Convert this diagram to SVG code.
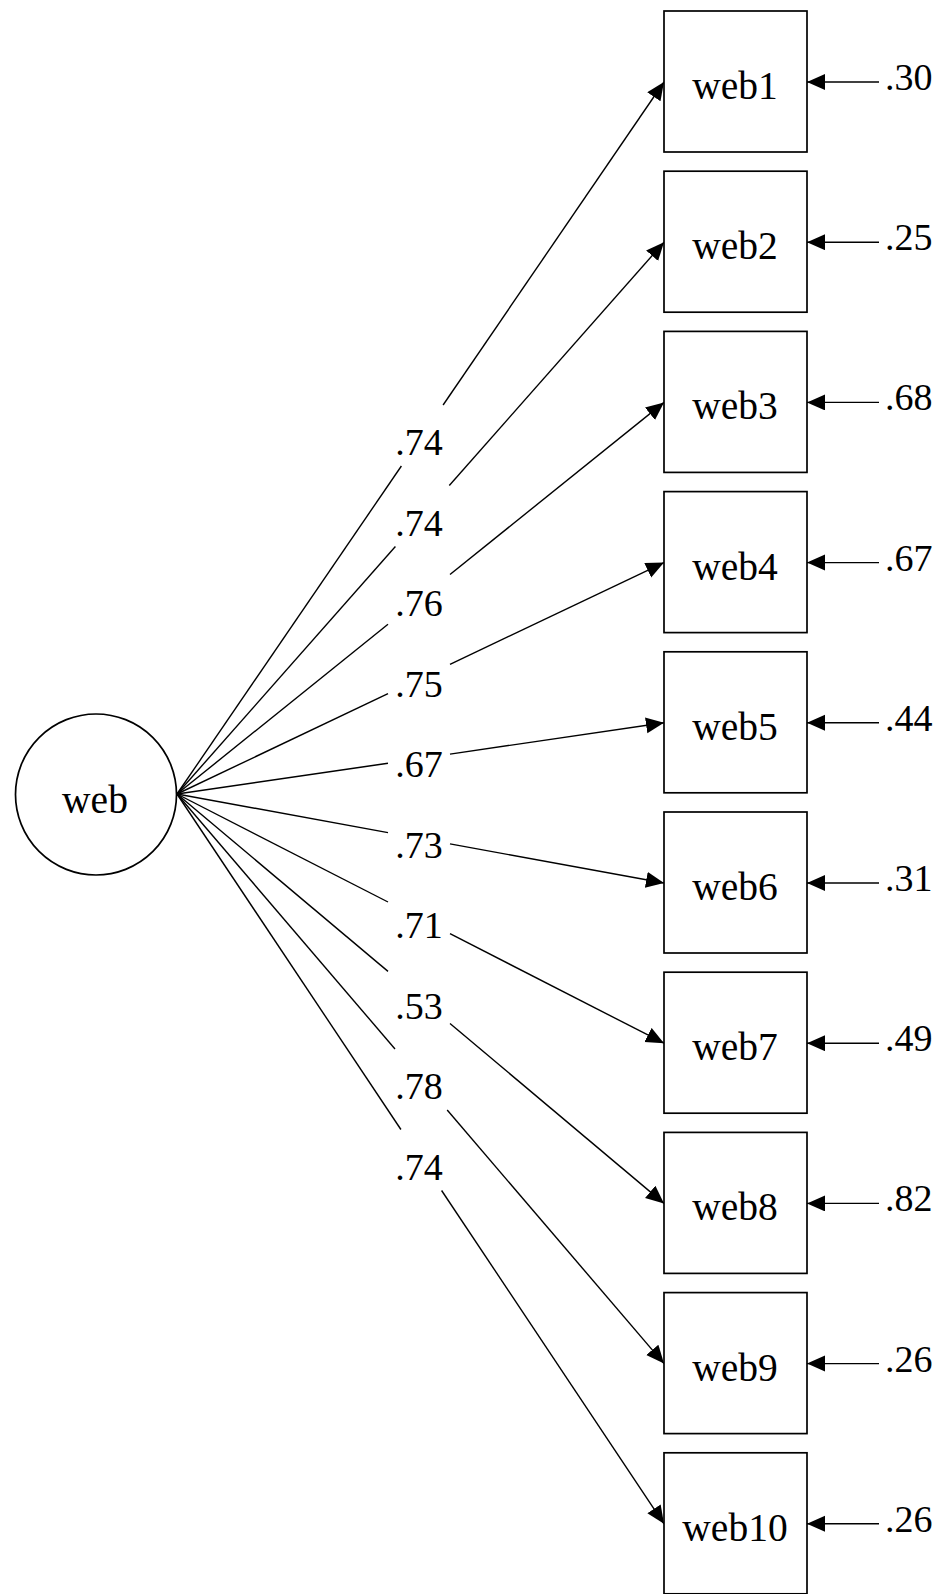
<svg xmlns="http://www.w3.org/2000/svg" width="950" height="1594" viewBox="0 0 950 1594">
<style>
.node{fill:#fff;stroke:#000;stroke-width:1.7}
.ln{fill:none;stroke:#000;stroke-width:1.4}
.nm{font-family:"Liberation Serif","Times New Roman",serif;font-size:39.5px;fill:#000;text-anchor:middle}
.num{font-family:"Liberation Serif","Times New Roman",serif;font-size:38px;fill:#000}
.mid{text-anchor:middle}
</style>
<defs>
<marker id="ah" markerUnits="userSpaceOnUse" markerWidth="20" markerHeight="18" refX="18" refY="8" orient="auto">
<path d="M0,0 L18,8 L0,16 Z" fill="#000"/>
</marker>
</defs>
<rect width="950" height="1594" fill="#fff"/>
<g id="connectors">
<path class="ln" d="M177,794 L401.4,466"/><path class="ln" d="M443.1,405 L664,82" marker-end="url(#ah)"/>
<path class="ln" d="M177,794 L395.4,546.5"/><path class="ln" d="M449.3,485.5 L664,242.2" marker-end="url(#ah)"/>
<path class="ln" d="M177,794 L388,624.3"/><path class="ln" d="M450,574.5 L664,402.4" marker-end="url(#ah)"/>
<path class="ln" d="M177,794 L388,693.7"/><path class="ln" d="M450,664.3 L664,562.6" marker-end="url(#ah)"/>
<path class="ln" d="M177,794 L388,763.2"/><path class="ln" d="M450,754.1 L664,722.8" marker-end="url(#ah)"/>
<path class="ln" d="M177,794 L388,832.6"/><path class="ln" d="M450,843.9 L664,883" marker-end="url(#ah)"/>
<path class="ln" d="M177,794 L388,902"/><path class="ln" d="M450,933.7 L664,1043.2" marker-end="url(#ah)"/>
<path class="ln" d="M177,794 L388,971.4"/><path class="ln" d="M450,1023.5 L664,1203.4" marker-end="url(#ah)"/>
<path class="ln" d="M177,794 L395,1049"/><path class="ln" d="M447.2,1110 L664,1363.6" marker-end="url(#ah)"/>
<path class="ln" d="M177,794 L400.9,1129.5"/><path class="ln" d="M441.6,1190.5 L664,1523.8" marker-end="url(#ah)"/>
<path class="ln" d="M879,82 L807,82" marker-end="url(#ah)"/>
<path class="ln" d="M879,242.2 L807,242.2" marker-end="url(#ah)"/>
<path class="ln" d="M879,402.4 L807,402.4" marker-end="url(#ah)"/>
<path class="ln" d="M879,562.6 L807,562.6" marker-end="url(#ah)"/>
<path class="ln" d="M879,722.8 L807,722.8" marker-end="url(#ah)"/>
<path class="ln" d="M879,883 L807,883" marker-end="url(#ah)"/>
<path class="ln" d="M879,1043.2 L807,1043.2" marker-end="url(#ah)"/>
<path class="ln" d="M879,1203.4 L807,1203.4" marker-end="url(#ah)"/>
<path class="ln" d="M879,1363.6 L807,1363.6" marker-end="url(#ah)"/>
<path class="ln" d="M879,1523.8 L807,1523.8" marker-end="url(#ah)"/>
<text class="num mid" x="419" y="455">.74</text>
<text class="num mid" x="419" y="535.5">.74</text>
<text class="num mid" x="419" y="616">.76</text>
<text class="num mid" x="419" y="696.5">.75</text>
<text class="num mid" x="419" y="777">.67</text>
<text class="num mid" x="419" y="857.5">.73</text>
<text class="num mid" x="419" y="938">.71</text>
<text class="num mid" x="419" y="1018.5">.53</text>
<text class="num mid" x="419" y="1099">.78</text>
<text class="num mid" x="419" y="1179.5">.74</text>
<text class="num" x="885" y="90">.30</text>
<text class="num" x="885" y="250.2">.25</text>
<text class="num" x="885" y="410.4">.68</text>
<text class="num" x="885" y="570.6">.67</text>
<text class="num" x="885" y="730.8">.44</text>
<text class="num" x="885" y="891">.31</text>
<text class="num" x="885" y="1051.2">.49</text>
<text class="num" x="885" y="1211.4">.82</text>
<text class="num" x="885" y="1371.6">.26</text>
<text class="num" x="885" y="1531.8">.26</text>
</g>
<g id="web"><circle class="node" cx="96" cy="794.5" r="80.5"/><text class="nm" x="95" y="813">web</text></g>
<g id="web1"><rect class="node" x="664" y="11" width="143" height="141"/><text class="nm" x="735" y="99">web1</text></g>
<g id="web2"><rect class="node" x="664" y="171.2" width="143" height="141"/><text class="nm" x="735" y="259.2">web2</text></g>
<g id="web3"><rect class="node" x="664" y="331.4" width="143" height="141"/><text class="nm" x="735" y="419.4">web3</text></g>
<g id="web4"><rect class="node" x="664" y="491.6" width="143" height="141"/><text class="nm" x="735" y="579.6">web4</text></g>
<g id="web5"><rect class="node" x="664" y="651.8" width="143" height="141"/><text class="nm" x="735" y="739.8">web5</text></g>
<g id="web6"><rect class="node" x="664" y="812" width="143" height="141"/><text class="nm" x="735" y="900">web6</text></g>
<g id="web7"><rect class="node" x="664" y="972.2" width="143" height="141"/><text class="nm" x="735" y="1060.2">web7</text></g>
<g id="web8"><rect class="node" x="664" y="1132.4" width="143" height="141"/><text class="nm" x="735" y="1220.4">web8</text></g>
<g id="web9"><rect class="node" x="664" y="1292.6" width="143" height="141"/><text class="nm" x="735" y="1380.6">web9</text></g>
<g id="web10"><rect class="node" x="664" y="1452.8" width="143" height="141"/><text class="nm" x="735" y="1540.8">web10</text></g>
</svg>
